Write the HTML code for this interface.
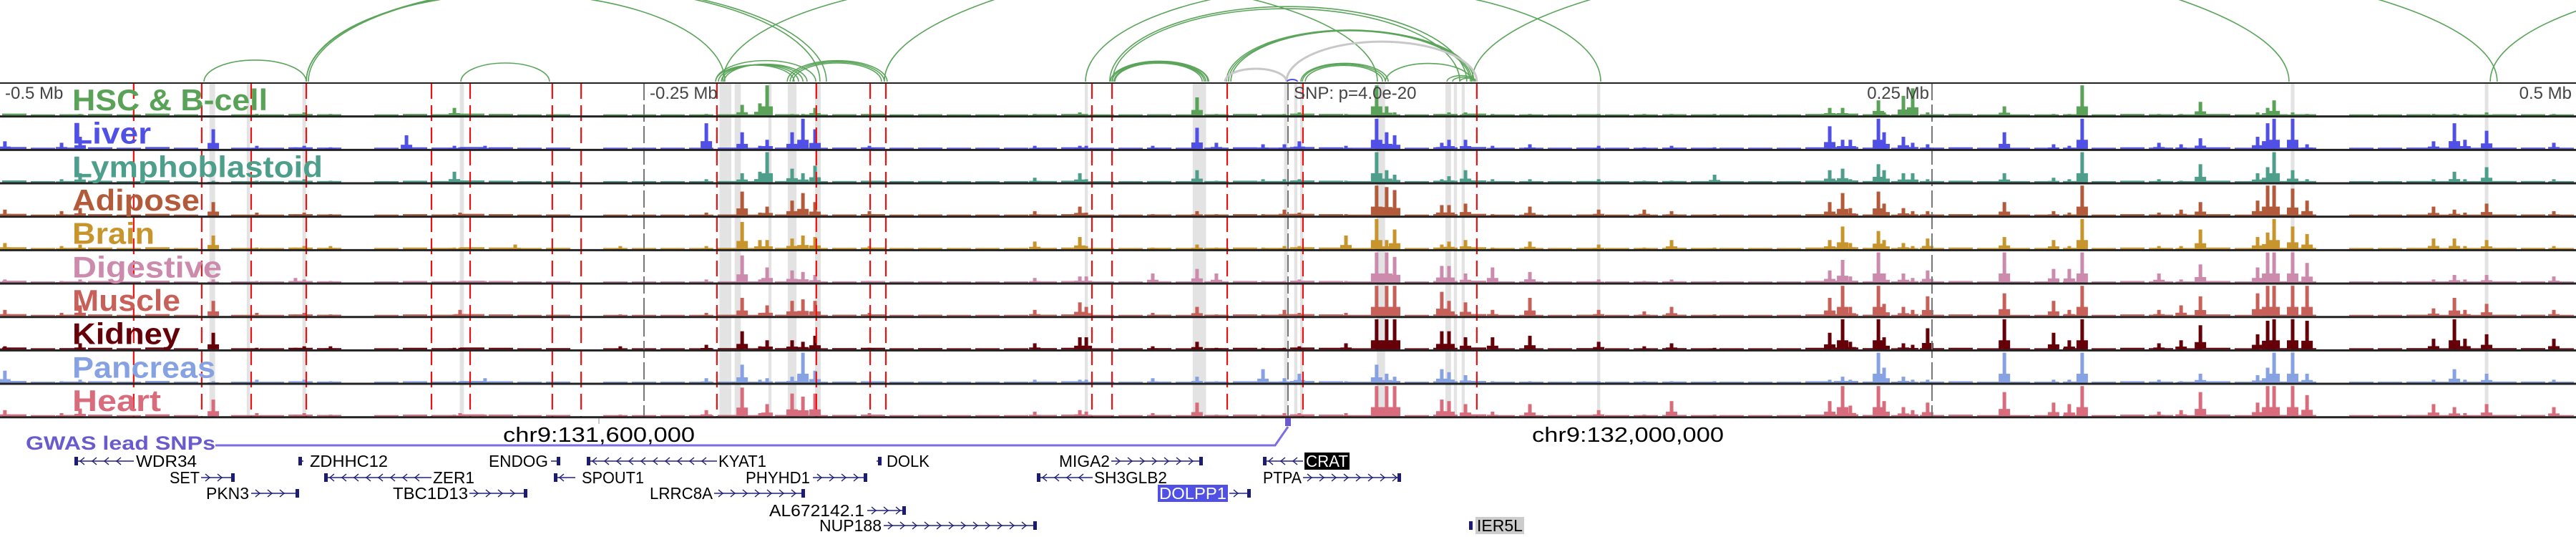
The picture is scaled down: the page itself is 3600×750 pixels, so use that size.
<!DOCTYPE html>
<html><head><meta charset="utf-8"><title>Regulatory tracks chr9</title>
<style>
html,body{margin:0;padding:0;background:#fff;}
svg{display:block;font-family:"Liberation Sans","DejaVu Sans",sans-serif;}
</style></head>
<body>
<svg id="chart" width="3600" height="750" viewBox="0 0 3600 750" xmlns="http://www.w3.org/2000/svg">
<g id="bands"></g>
<g id="arcs"></g>
<g id="signals"></g>
<g id="vlines"></g>
<g id="borders"></g>
<g id="labels"></g>
<g id="axis">
  <text x="7" y="138" font-size="24" fill="#444">-0.5 Mb</text>
  <text x="908" y="138" font-size="24" fill="#444">-0.25 Mb</text>
  <text x="1808" y="138" font-size="24" fill="#444">SNP: p=4.0e-20</text>
  <text x="2696" y="138" font-size="24" fill="#444" text-anchor="end">0.25 Mb</text>
  <text x="3594" y="138" font-size="24" fill="#444" text-anchor="end">0.5 Mb</text>
  <line x1="837" y1="584" x2="837" y2="592" stroke="#888" stroke-width="1"/>
  <text x="703" y="617" font-size="29" fill="#000" textLength="268" lengthAdjust="spacingAndGlyphs">chr9:131,600,000</text>
  <text x="2141" y="617" font-size="29" fill="#000" textLength="268" lengthAdjust="spacingAndGlyphs">chr9:132,000,000</text>
</g>
<g id="gwas">
  <text x="36" y="628" font-size="27" font-weight="bold" fill="#6a5acd" textLength="265" lengthAdjust="spacingAndGlyphs">GWAS lead SNPs</text>
  <polyline points="301,622 1782,622 1800,596" fill="none" stroke="#7b6ee0" stroke-width="3"/>
  <rect x="1796" y="584" width="8" height="11" fill="#6a5acd"/>
</g>
<g id="genes"></g>
</svg>
<script>
// ---- axis ----
const centerX = 1800, pxPerKb = 3.6;
function xKb(kb){ return centerX + kb * pxPerKb; }
const trackTop = 116, trackH = 46.67, plotH = 42;

// ---- tracks ----
const trackNames = ["HSC & B-cell","Liver","Lymphoblastoid","Adipose","Brain","Digestive","Muscle","Kidney","Pancreas","Heart"];
const trackColors = ["#59a257","#5050e6","#4e9e8c","#b35a3a","#c8952c","#cc8aac","#c8605a","#660008","#86a2e2","#d86c7c"];
const labelWidths = [273,110,350,178,115,209,151,151,200,124];

// peak positions in kb relative to lead SNP
const peakKb = [-498.1,-476.1,-468.9,-417.2,-400.3,-385.3,-381.9,-371.7,-342.2,-323.6,-321.4,-311.7,-300,-259.2,-225.8,-211.9,-205,-202.2,-192.5,-188.3,-183.6,-162.5,-98.3,-80.8,-78.3,-52.5,-35.3,-27.8,-9.7,-1.4,4.4,22.5,34.4,38.3,41.4,59.7,62.5,68.9,79.4,93.9,120.6,138.3,148.9,165.6,210.3,215.3,218.3,229.2,231.4,238.9,242.5,248.3,278.1,297.2,303.3,308.3,338.1,346.7,354.2,376.4,380.3,382.8,390,395.6,444.7,452.8,456.9,465.3,491.4];
const hscVals   = [0,0,.05,0,.05,0,.1,.05,0,.25,.05,0,0,0,.05,.35,.4,1,.05,.05,.25,0,.05,.1,.05,0,.6,.05,0,.05,.1,.05,1,.3,.1,.05,.1,.1,.05,.05,.05,.05,.05,.05,.25,.25,.05,.5,.1,.65,.9,.1,.3,.05,.05,1,.05,.05,.45,.1,.25,.5,.1,.05,.05,.05,.05,.1,.05];
const liverVals = [.25,.2,.4,.65,.1,.05,.1,.05,.45,.1,.05,.1,0,0,.85,.55,.1,.3,.55,1,.65,.1,.1,.1,.1,.1,.7,.2,.15,.15,.25,.1,1,.55,.45,.2,.3,.3,.1,.15,.1,.05,.1,.05,.75,.3,.3,1,.55,.4,.2,.15,.55,.15,.1,1,.2,.15,.35,.4,.85,1,1,.15,.25,.85,.3,.6,.2];
const lymphVals = [0,.1,.3,.05,.05,.05,.1,.05,0,.35,.05,0,0,0,.1,.3,.35,1,.45,.3,.55,.05,.15,.3,.1,0,.4,.05,.1,.1,.1,.05,1,.4,.25,.1,.2,.4,.1,.1,.1,.05,.05,.25,.4,.45,.1,.6,.4,.3,.3,.1,.3,.15,.1,1,.1,.05,.6,.3,.5,1,.4,.1,.1,.35,.1,.5,.1];
const adiposeVals=[.2,.15,.25,.45,.1,.05,.1,.05,0,.05,.1,0,0,0,.1,.8,.1,.3,.5,.75,.45,.15,.15,.3,.1,.05,.15,.05,.05,.2,.1,.05,1,.95,.85,.35,.35,.4,.05,.3,.2,.2,.15,.05,.45,.75,.25,.8,.4,.25,.15,.15,.45,.15,.1,1,.1,.2,.45,.5,1,1,.9,.5,.3,.2,.1,.4,.15];
const brainVals = [.2,.1,.15,.45,.05,.05,.1,.1,0,.05,.05,0,.15,.1,.1,.9,.3,.3,.35,.45,.4,.1,.25,.4,.1,.05,.15,.05,.05,.1,.1,.45,1,.3,.65,.15,.25,.3,.05,.25,.15,.05,.3,.05,.3,.75,.2,.6,.3,.2,.1,.35,.4,.3,.1,1,.1,.1,.65,.4,.55,1,.75,.5,.35,.35,.1,.3,.1];
const digestVals= [.1,.05,.1,.1,.05,.15,.1,.05,0,.05,.05,.05,0,0,.1,.9,.1,.5,.4,.35,.25,.05,.15,.2,.2,.3,.45,.3,.05,.05,.1,.05,1,1,.85,.55,.55,.3,.5,.35,.1,.05,.1,.05,.4,.75,.2,1,.3,.3,.15,.4,1,.45,.45,1,.3,.1,.6,.5,1,1,1,.65,.1,.25,.1,.25,.2];
const muscleVals= [.2,.1,.35,.5,.1,.05,.1,.05,0,.05,.2,0,0,.05,.1,.6,.1,.35,.5,.55,.5,.1,.2,.45,.3,.1,.3,.05,.05,.2,.1,.1,1,1,1,.8,.5,.45,.2,.6,.2,.15,.3,.05,.6,1,.3,1,.4,.3,.2,.65,.75,.5,.2,1,.2,.35,.65,.75,1,1,1,1,.25,.6,.2,.4,.2];
const kidneyVals= [.1,0,.2,.55,.05,.05,.1,.1,0,.05,.05,0,0,.1,.15,.6,.1,.3,.3,.25,.45,.05,.2,.4,.4,.1,.25,.05,.05,.05,.1,.2,1,1,1,.6,.6,.4,.4,.45,.25,.1,.2,.05,.55,1,.25,1,.4,.2,.15,.7,1,.55,.3,1,.2,.3,.8,.5,.95,1,1,.95,.35,1,.35,.5,.35];
const pancVals  = [.4,.05,.1,.05,.1,.05,.1,.05,0,.05,.05,.15,0,0,.15,.6,.1,.15,.2,1,.4,.05,.1,.1,.1,.15,.2,.05,.45,.15,.3,.05,.6,.3,.2,.45,.35,.25,.05,.05,.05,.05,.05,.05,.1,.2,.1,1,.5,.2,.1,.1,1,.1,.1,1,.1,.05,.3,.25,.5,1,1,.3,.1,.45,.1,.3,.1];
const heartVals = [.2,.1,.25,.55,.1,.05,.1,.05,0,.05,.1,.05,0,.05,.2,.95,.1,.4,.75,.65,.75,.1,.15,.2,.15,.1,.45,.05,.05,.1,.1,.1,1,1,1,.55,.5,.4,.15,.4,.2,.05,.5,.05,.5,1,.35,1,.5,.3,.2,.45,.8,.45,.4,1,.15,.2,.8,.45,1,1,1,.7,.4,.3,.1,.4,.3];
const trackValues = [hscVals,liverVals,lymphVals,adiposeVals,brainVals,digestVals,muscleVals,kidneyVals,pancVals,heartVals];
// low background signal, per 40px bin (90 bins across the window)
const bgBins = [.06,.02,.04,.05,.03,.06,.03,0,.03,.02,.05,.04,0,.03,.05,.04,.06,.05,.02,.04,0,.02,.03,.02,.03,.04,.02,.04,.03,.04,.05,.03,.04,.02,.03,.03,.04,.05,.03,.02,.04,.03,.04,.05,.04,.06,.05,.03,.02,.03,.05,.06,.03,.02,.03,.04,.02,.03,.04,.03,.03,.02,.03,.05,.06,.04,.03,.04,.05,.03,.02,.03,.04,.03,.05,.04,.03,.05,.03,.04,.04,0,.02,.03,.04,.03,.02,.04,.04,.03];

// red SNP lines and grey highlight bands (kb)
const snpKb = [-448.1,-421.7,-402.5,-381.1,-332.5,-317.5,-285.6,-274.4,-221.7,-183.1,-162.2,-156.1,-76.1,-68.3,-23.6,5.8,73.3];
const bandKb = [-418.1,-417.2,-403.6,-381.9,-320.7,-219,-216.7,-213.6,-201.1,-192.5,-182.5,-78.3,-34.4,-0.8,3,5.3,36.1,62.2,65,68,120.6,390,465.3];
const bandWidthKb = [1.2,1.4,1.2,1.4,1.6,3.4,1.2,2.4,1.2,3.4,2.2,1.2,5.2,1.4,1.2,1.2,3.2,2.2,1.2,1.2,1.2,1.4,1.4];
const axisKb = [-250,0,250];

// chromatin loops (kb ends)
const arcStartKb = [-420.8,-381.1,-381.1,-380.3,-321.1,-222.2,-221.1,-220,-218.9,-222.2,-193.3,-194.4,-192.2,-219.4,-156.7,-78.6,-69.2,-68.1,-67.2,-67.5,-68.3,-67.5,-68.9,-23.9,-23.1,-22.2,5.6,6.7,5,37.8,61.7,63.9,66.7,71.4,466.7];
const arcEndKb   = [-381.1,-218.6,-181.7,-179.2,-286.7,-191.7,-190,-188.3,-186.7,-183.3,-156.7,-155.6,-157.8,34.7,388.6,121.4,69.4,66.7,-32.5,-33.3,-31.9,-30.8,-31.1,71.4,70.8,72.2,37.8,36.7,38.9,71.4,72.8,72.2,73.3,469.4,780];
const arcGreyStartKb = [-24.4,-0.6];
const arcGreyEndKb = [-0.6,73.3];

const NS = "http://www.w3.org/2000/svg";
function mk(tag, attrs, parent){ const e=document.createElementNS(NS,tag); for(const k in attrs) e.setAttribute(k,attrs[k]); parent.appendChild(e); return e; }
const svg = document.getElementById("chart");
const gBands = document.getElementById("bands"), gArcs=document.getElementById("arcs"), gSig=document.getElementById("signals");
const gV = document.getElementById("vlines"), gB=document.getElementById("borders"), gL=document.getElementById("labels"), gG=document.getElementById("genes");
const bottom = trackTop + trackH*10;

// bands
bandKb.forEach((k,i)=>{
  const w = bandWidthKb[i]*pxPerKb;
  const r = mk("rect",{x:xKb(k)-w/2,y:trackTop,width:w,height:bottom-trackTop,fill:"#e3e3e3"},gBands);
  
  
});

// arcs
function arcPath(x1,x2){
  const span=Math.abs(x2-x1), r=span/2;
  const ry = span<=600 ? 0.21*span : 126+(span-600)*0.064;
  return `M${x1} 114 A${r} ${ry} 0 0 1 ${x2} 114`;
}
arcStartKb.forEach((s,i)=>{
  const p = mk("path",{d:arcPath(xKb(s),xKb(arcEndKb[i])),fill:"none",stroke:"#5ba55b","stroke-width":1.6},gArcs);
  
  
});
arcGreyStartKb.forEach((s,i)=>{
  const p = mk("path",{d:arcPath(xKb(s),xKb(arcGreyEndKb[i])),fill:"none",stroke:"#c8c8c8","stroke-width":3},gArcs);
  
  
});
{
  const p = mk("path",{d:arcPath(xKb(-0.3),xKb(3.6)),fill:"none",stroke:"#5050e6","stroke-width":2},gArcs);
  
  
}

// signals
trackNames.forEach((name,t)=>{
  const base = trackTop + trackH*(t+1) - 1.5;
  const g = mk("g",{fill:trackColors[t]},gSig);
  
  
  bgBins.forEach((v,b)=>{
    if(v<=0) return;
    const h = Math.max(1.5, v*plotH);
    const r = mk("rect",{x:b*40+3,y:base-h,width:34,height:h},g);
    
    
  });
  trackValues[t].forEach((v,i)=>{
    if(v<=0) return;
    const cx = xKb(peakKb[i]);
    const h = Math.min(plotH, v*plotH);
    const sh = h*0.3;
    const s = mk("rect",{x:cx-8,y:base-sh,width:16,height:sh},g);
    
    
    const m = mk("rect",{x:cx-2.5,y:base-h,width:5,height:h},g);
    
    
  });
});

// axis lines & snp lines
axisKb.forEach(k=>{
  const l = mk("line",{x1:xKb(k),y1:trackTop,x2:xKb(k),y2:bottom,stroke:"#777","stroke-width":2,"stroke-dasharray":"24 6"},gV);
  
  
});
snpKb.forEach(k=>{
  const l = mk("line",{x1:xKb(k),y1:trackTop,x2:xKb(k),y2:bottom,stroke:"#ee1111","stroke-width":2.2,"stroke-dasharray":"22 9"},gV);
  
  
});

// borders
for(let t=0;t<=10;t++){
  const y = trackTop + trackH*t;
  const l = mk("line",{x1:0,y1:y,x2:3600,y2:y,stroke:"#222","stroke-width":t===0?2:3},gB);
  
  
}

// labels
trackNames.forEach((name,t)=>{
  const tx = mk("text",{x:101,y:trackTop+trackH*t+38,"font-size":42,"font-weight":"bold",fill:trackColors[t],textLength:labelWidths[t],lengthAdjust:"spacingAndGlyphs"},gL);
  tx.textContent = name;
  
  
});

// genes: [name, start, end, strand, rowY, labelSide, labelX0, labelX1, style]
const genes = [
 ["WDR34",104,187,-1,644,"R",190,275,""],
 ["ZDHHC12",417,424,-1,644,"R",433,542,""],
 ["ENDOG",770,783,1,644,"L",683,766,""],
 ["KYAT1",820,1002,-1,644,"R",1004,1071,""],
 ["DOLK",1225,1232,1,644,"R",1239,1299,""],
 ["MIGA2",1553,1681,1,644,"L",1480,1551,""],
 ["CRAT",1765,1821,-1,644,"R",1825,1884,"black"],
 ["SET",281,328,1,667,"L",237,279,""],
 ["ZER1",453,603,-1,667,"R",605,663,""],
 ["SPOUT1",774,804,-1,667,"R",813,900,""],
 ["PHYHD1",1136,1212,1,667,"L",1042,1132,""],
 ["SH3GLB2",1449,1527,-1,667,"R",1529,1631,""],
 ["PTPA",1821,1958,1,667,"L",1765,1819,""],
 ["PKN3",351,418,1,689,"L",288,348,""],
 ["TBC1D13",656,737,1,689,"L",549,654,""],
 ["LRRC8A",998,1125,1,689,"L",908,996,""],
 ["DOLPP1",1718,1748,1,689,"L",1620,1714,"blue"],
 ["AL672142.1",1212,1266,1,713,"L",1075,1208,""],
 ["NUP188",1235,1449,1,734,"L",1145,1232,""],
 ["IER5L",2054,2058,1,734,"R",2064,2128,"grey"]
];
genes.forEach(gd=>{
  const [name,s,e,strand,y,side,lx0,lx1,style]=gd;
  const g = mk("g",{},gG);
  
  
  mk("line",{x1:s,y1:y,x2:e,y2:y,stroke:"#5858a0","stroke-width":2},g);
  for(let x=s+10;x<e-6;x+=17){
    const d = strand>0 ? `M${x-4} ${y-5} L${x+2} ${y} L${x-4} ${y+5}` : `M${x+4} ${y-5} L${x-2} ${y} L${x+4} ${y+5}`;
    mk("path",{d:d,fill:"none",stroke:"#1c1c72","stroke-width":1.4},g);
  }
  const ex = strand>0 ? e-5 : s;
  mk("rect",{x:ex,y:y-6,width:5,height:12,fill:"#1c1c72"},g);
  if(style){
    const bg = style==="black"?"#000":style==="blue"?"#5050e6":"#cccccc";
    mk("rect",{x:lx0-2,y:y-12,width:lx1-lx0+4,height:24,fill:bg},g);
  }
  const t = mk("text",{x:lx0,y:y+8,"font-size":23,fill:(style==="black"||style==="blue")?"#fff":"#000",textLength:lx1-lx0,lengthAdjust:"spacingAndGlyphs"},g);
  t.textContent = name;
});
</script>
</body></html>
